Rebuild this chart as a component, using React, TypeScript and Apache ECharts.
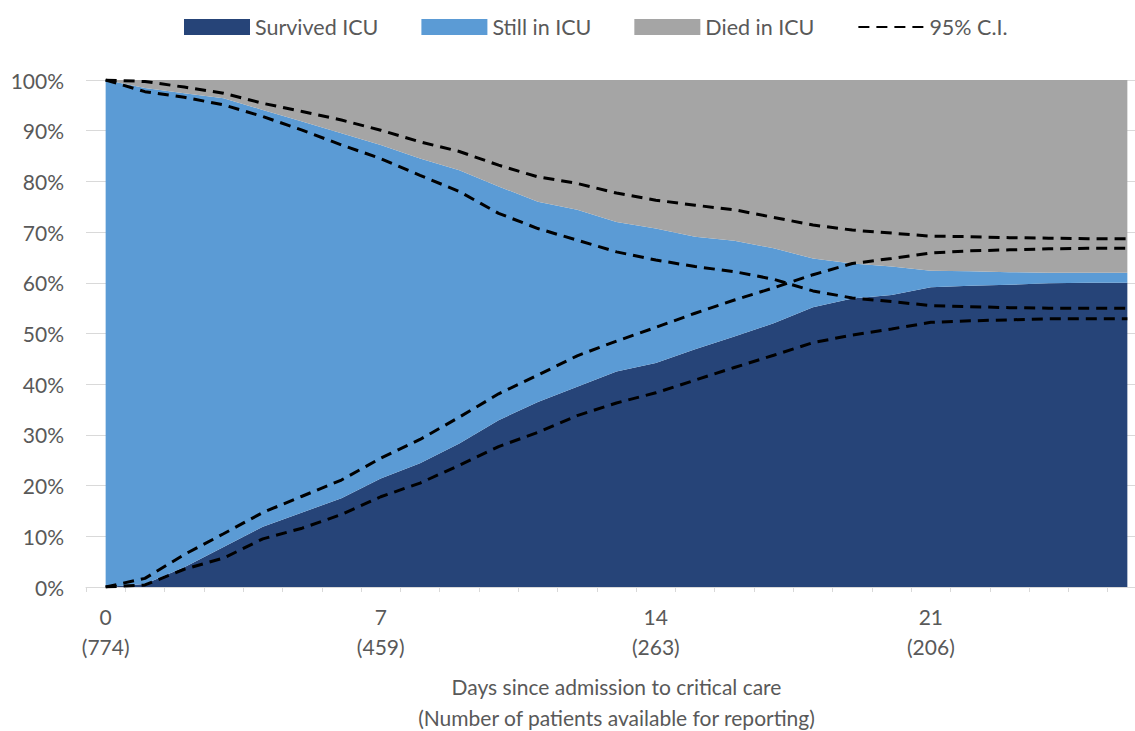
import React, { useEffect, useRef } from 'react';
import * as echarts from 'echarts';

const days = ['0','1','2','3','4','5','6','7','8','9','10','11','12','13','14','15','16','17','18','19','20','21','22','23','24','25','26'];
const labelDays = [0, 7, 14, 21];
const patients = [774, 459, 263, 206];

const survived = [0, 0.6, 3.9, 7.9, 11.9, 14.7, 17.5, 21.4, 24.4, 28.3, 32.9, 36.5, 39.5, 42.5, 44.2, 46.9, 49.4, 52.0, 55.2, 56.9, 57.6, 59.1, 59.4, 59.6, 59.9, 60.0, 60.0];
const stillIn = [100, 97.8, 93.5, 88.5, 82.2, 77.1, 72.0, 65.8, 60.1, 53.9, 46.1, 39.5, 34.9, 29.5, 26.5, 22.2, 18.9, 14.8, 9.6, 6.9, 5.6, 3.3, 2.9, 2.5, 2.1, 2.0, 2.0];
const died = [0, 1.6, 2.6, 3.6, 5.9, 8.2, 10.5, 12.8, 15.5, 17.8, 21.0, 24.0, 25.6, 28.0, 29.3, 30.9, 31.7, 33.2, 35.2, 36.2, 36.8, 37.6, 37.7, 37.9, 38.0, 38.0, 38.0];

const ciDiedUpper = [100, 99.7, 98.6, 97.4, 95.4, 93.8, 92.1, 90.1, 87.8, 85.9, 83.2, 80.9, 79.6, 77.7, 76.3, 75.3, 74.4, 72.9, 71.4, 70.4, 69.8, 69.2, 69.1, 68.9, 68.8, 68.7, 68.7];
const ciDiedLower = [100, 97.7, 96.6, 95.1, 92.8, 90.1, 87.2, 84.5, 81.2, 78.0, 73.7, 70.7, 68.4, 66.1, 64.5, 63.2, 62.2, 60.7, 58.4, 57.0, 56.3, 55.5, 55.3, 55.1, 55.0, 55.0, 55.0];
const ciSurvUpper = [0, 1.7, 6.4, 10.5, 14.7, 17.9, 21.1, 25.4, 29.1, 33.5, 38.1, 41.8, 45.6, 48.5, 51.2, 54.0, 56.6, 59.0, 61.6, 63.8, 64.8, 65.9, 66.3, 66.5, 66.7, 66.8, 66.8];
const ciSurvLower = [0, 0.4, 3.5, 5.7, 9.5, 11.6, 14.3, 17.8, 20.5, 24.0, 27.7, 30.5, 33.8, 36.3, 38.3, 40.8, 43.3, 45.7, 48.2, 49.7, 50.9, 52.2, 52.5, 52.7, 52.9, 52.9, 52.9];

const FONT = 'Lato';
const TEXT = '#595959';
const GRID = '#D9D9D9';

export default function App() {
  const ref = useRef<HTMLDivElement>(null);
  useEffect(() => {
    const chart = echarts.init(ref.current!, null, { renderer: 'svg' });
    const area = (name: string, data: number[], color: string) => ({
      name,
      type: 'line',
      stack: 'total',
      data,
      symbol: 'none',
      lineStyle: { width: 0 },
      areaStyle: { color, opacity: 1 },
      itemStyle: { color },
      z: 2,
    });
    const ci = (data: number[]) => ({
      name: '95% C.I.',
      type: 'line',
      data,
      symbol: 'none',
      lineStyle: { color: '#000', width: 3, type: [11, 7] },
      itemStyle: { color: '#000' },
      z: 5,
    });
    chart.setOption({
      animation: false,
      textStyle: { fontFamily: FONT },
      legend: {
        top: 11,
        left: 179,
        itemWidth: 66,
        itemHeight: 16,
        itemGap: 43,
        textStyle: { fontSize: 21.5, color: TEXT, fontFamily: FONT },
        data: [
          { name: 'Survived ICU', icon: 'rect' },
          { name: 'Still in ICU', icon: 'rect' },
          { name: 'Died in ICU', icon: 'rect' },
          { name: '95% C.I.', itemStyle: { color: 'rgba(0,0,0,0)', borderWidth: 0, opacity: 0 } },
        ],
      },
      grid: { left: 86, top: 80, width: 1061, height: 507, outerBoundsMode: 'none', containLabel: false },
      xAxis: {
        type: 'category',
        data: days,
        boundaryGap: true,
        axisLine: { lineStyle: { color: GRID, width: 1 } },
        axisTick: { show: true, interval: 0, length: 5, lineStyle: { color: GRID } },
        axisLabel: {
          interval: 6,
          margin: 14,
          fontSize: 21,
          lineHeight: 30,
          color: TEXT,
          fontFamily: FONT,
          formatter: (value: string, index: number) => {
            const i = labelDays.indexOf(index);
            return i >= 0 ? `${value}\n(${patients[i]})` : '';
          },
        },
        name: 'Days since admission to critical care\n(Number of patients available for reporting)',
        nameLocation: 'middle',
        nameGap: 84,
        nameTextStyle: { fontSize: 21, lineHeight: 31, color: TEXT, fontFamily: FONT },
      },
      yAxis: {
        type: 'value',
        min: 0,
        max: 100,
        interval: 10,
        axisLine: { show: false },
        axisTick: { show: false },
        splitLine: { lineStyle: { color: GRID, width: 1 } },
        axisLabel: { formatter: '{value}%', margin: 22, fontSize: 21, color: TEXT, fontFamily: FONT },
      },
      series: [
        area('Survived ICU', survived, '#264478'),
        area('Still in ICU', stillIn, '#5B9BD5'),
        area('Died in ICU', died, '#A5A5A5'),
        ci(ciDiedUpper),
        ci(ciDiedLower),
        ci(ciSurvUpper),
        ci(ciSurvLower),
      ],
    });
    return () => chart.dispose();
  }, []);
  return (
    <div
      ref={ref}
      style={{ position: 'fixed', left: 0, top: 0, width: 1135, height: 731, background: '#fff' }}
    />
  );
}
